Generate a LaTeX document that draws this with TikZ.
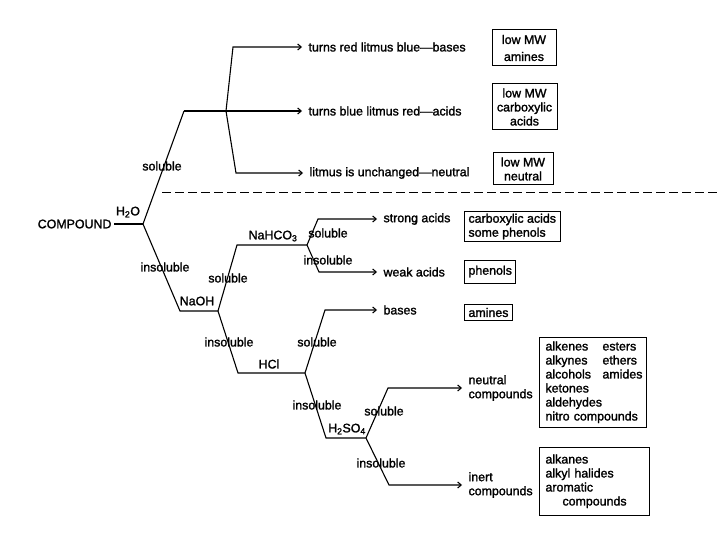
\documentclass[tikz,border=0pt]{standalone}
\usepackage{fontspec}
\setmainfont{Liberation Sans}
\newfontfamily\scanfont{Liberation Sans}[FakeBold=1.6]
\usetikzlibrary{arrows.meta}

\begin{document}
\begin{tikzpicture}[x=1pt, y=-1pt, >={Straight Barb[length=3.5pt,width=6pt]}, line width=1.1pt,
  every node/.style={font=\scanfont\fontsize{12.4}{14}\selectfont},
  lbl/.style={inner sep=1pt},
  res/.style={anchor=west, align=left, inner xsep=6pt, inner ysep=1pt},
  cls/.style={draw, line width=1pt, inner xsep=4pt, inner ysep=2pt}]
  \useasboundingbox (0,0) rectangle (720,540);

  % starting point and water test
  \node[anchor=east, inner sep=2pt] (cmp) at (114,224) {COMPOUND};
  \coordinate (w) at (143,224);
  \coordinate (ws) at (184,111);
  \coordinate (lt) at (226,111);
  \node[lbl] (h2o) at (128,212) {H\textsubscript{2}O};
  \draw (cmp) -- (w);
  \draw (w) -- (ws);
  \node[lbl] at (162,166) {soluble};

  % litmus results
  \node[res] (r1) at (302,47) {turns red litmus blue—bases};
  \node[res] (r2) at (302,111) {turns blue litmus red—acids};
  \node[res] (r3) at (303,173) {litmus is unchanged—neutral};
  \draw[->] (ws) -- (r2);
  \draw[->] (lt) -- (233,47) -- (r1);
  \draw[->] (lt) -- (236,173) -- (r3);

  \node[cls, align=center, minimum width=64pt, minimum height=36pt] (b1) at (524,48) {low MW\\[3pt]amines};
  \node[cls, align=center, minimum width=65pt, minimum height=46pt] (b2) at (524.5,107) {low MW\\carboxylic\\acids};
  \node[cls, align=center, minimum width=60pt, minimum height=32pt] (b3) at (523,169) {low MW\\neutral};

  \coordinate (dl) at (162,192);
  \coordinate (dr) at (720,192);
  \draw[line width=0.9pt, dash pattern=on 9pt off 4pt] (dl) -- (dr);

  % insoluble in water: NaOH
  \coordinate (n0) at (180,311);
  \coordinate (n1) at (218,311);
  \draw (w) -- (n0) -- (n1);
  \node[lbl] at (165,267) {insoluble};
  \node[lbl] at (197,301) {NaOH};

  % NaHCO3
  \coordinate (c0) at (237,245);
  \coordinate (c1) at (307,245);
  \draw (n1) -- (c0) -- (c1);
  \node[lbl] at (228,278) {soluble};
  \node[lbl] at (273,236) {NaHCO\textsubscript{3}};
  \node[res] (sa) at (377,219) {strong acids};
  \node[res] (wa) at (377,272) {weak acids};
  \draw[->] (c1) -- (318,219) -- (sa);
  \draw[->] (c1) -- (319,272) -- (wa);
  \node[lbl] at (328,233) {soluble};
  \node[lbl] at (328,260) {insoluble};

  \node[cls, anchor=west, align=left, minimum height=27pt, inner xsep=4pt] (b4) at (464,226.5) {carboxylic acids\\some phenols};
  \node[cls, anchor=west, minimum height=23pt] (b5) at (464,271.5) {phenols};
  \node[cls, anchor=west, minimum height=16pt] (b6) at (464,312.5) {amines};

  % HCl
  \coordinate (h0) at (238,373);
  \coordinate (h1) at (305,373);
  \draw (n1) -- (h0) -- (h1);
  \node[lbl] at (229,342) {insoluble};
  \node[lbl] at (269,364) {HCl};
  \node[res] (ba) at (377,310) {bases};
  \draw[->] (h1) -- (325,310) -- (ba);
  \node[lbl] at (317,342) {soluble};

  % H2SO4
  \coordinate (s0) at (326,438);
  \coordinate (s1) at (366,438);
  \draw (h1) -- (s0) -- (s1);
  \node[lbl] at (317,405) {insoluble};
  \node[lbl] at (347,429) {H\textsubscript{2}SO\textsubscript{4}};
  \node[res] (ne) at (462,388) {neutral\\compounds};
  \node[res] (in) at (462,485) {inert\\compounds};
  \draw[->] (s1) -- (388,388) -- (ne);
  \draw[->] (s1) -- (389,485) -- (in);
  \node[lbl] at (384,411) {soluble};
  \node[lbl] at (381,463) {insoluble};

  \node[cls, anchor=north west, align=left, text width=95pt, inner xsep=6pt, inner ysep=4pt] (b7) at (539,337)
    {\makebox[57pt][l]{alkenes}esters\\ \makebox[57pt][l]{alkynes}ethers\\ \makebox[57pt][l]{alcohols}amides\\ ketones\\ aldehydes\\ nitro compounds};
  \node[cls, anchor=north west, align=left, text width=98pt, inner xsep=6pt, inner ysep=7pt] (b8) at (539,447)
    {alkanes\\ alkyl halides\\ aromatic\\ \hspace*{17pt}compounds};
\end{tikzpicture}
\end{document}
